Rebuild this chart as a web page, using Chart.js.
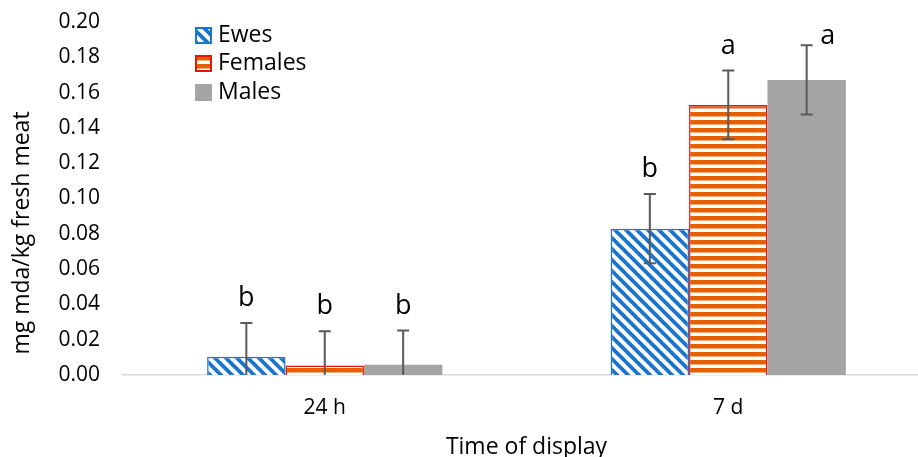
<!DOCTYPE html>
<html>
<head>
<meta charset="utf-8">
<script src="https://cdn.jsdelivr.net/npm/chart.js@4"></script>
<style>
  html,body{margin:0;padding:0;background:#fff}
  #wrap{width:918px;height:457px}
</style>
</head>
<body>
<div id="wrap"><canvas id="myChart"></canvas></div>
<script>
    // datos
    const categorias=['24 h','7 d']
    const ewes=[0.0103,0.0829]
    const females=[0.0054,0.153]
    const males=[0.0058,0.1672]
    const errEwes=[0.0192,0.0196]
    const errFemales=[0.0194,0.0195]
    const errMales=[0.0194,0.0196]
    const letEwes=['b','b']
    const letFemales=['b','a']
    const letMales=['b','a']
    const yTicks=[0,0.02,0.04,0.06,0.08,0.10,0.12,0.14,0.16,0.18,0.20]

    const FUENTE="'Open Sans', sans-serif"
    Chart.defaults.font.family=FUENTE

    const rayasDiag=(color)=>{
        const s=11
        const c=document.createElement('canvas')
        c.width=s; c.height=s
        const g=c.getContext('2d')
        g.fillStyle='#fff'; g.fillRect(0,0,s,s)
        g.strokeStyle=color; g.lineWidth=3.8
        for(let k=-1;k<=1;k++){
            g.beginPath(); g.moveTo(k*s-2,-2); g.lineTo(k*s+s+2,s+2); g.stroke()
        }
        return g.createPattern(c,'repeat')
    }
    const rayasHoriz=(color)=>{
        const c=document.createElement('canvas')
        c.width=8; c.height=8
        const g=c.getContext('2d')
        g.fillStyle='#fff'; g.fillRect(0,0,8,8)
        g.fillStyle=color; g.fillRect(0,0,8,4.5)
        return g.createPattern(c,'repeat')
    }

    // el area del grafico en la figura sigue mas alla del borde derecho
    const ajusteEjes={
        id:'ajusteEjes',
        afterLayout(chart){
            const x=chart.scales.x
            x.right=930
            x.width=x.right-x.left
            x.configure()
            const y=chart.scales.y
            y.top=22
            y.height=y.bottom-y.top
            y.configure()
        }
    }

    const barrasError={
        id:'barrasError',
        afterDatasetsDraw(chart){
            const ctx=chart.ctx
            const y=chart.scales.y
            chart.data.datasets.forEach((ds,i)=>{
                const meta=chart.getDatasetMeta(i)
                meta.data.forEach((bar,j)=>{
                    const v=ds.data[j], e=ds.errores[j]
                    const yTop=y.getPixelForValue(v+e)
                    const low=v-e
                    const yBot=y.getPixelForValue(Math.max(low,0))
                    ctx.save()
                    ctx.strokeStyle='#595959'
                    ctx.lineWidth=2
                    ctx.beginPath()
                    ctx.moveTo(bar.x,yTop); ctx.lineTo(bar.x,yBot)
                    ctx.moveTo(bar.x-6,yTop); ctx.lineTo(bar.x+6,yTop)
                    if(low>0){ ctx.moveTo(bar.x-6,yBot); ctx.lineTo(bar.x+6,yBot) }
                    ctx.stroke()
                    ctx.font="27px "+FUENTE
                    ctx.fillStyle='#000'
                    ctx.textAlign='center'
                    ctx.textBaseline='alphabetic'
                    let lx=bar.x, ly=yTop-17
                    if(ly-15<chart.chartArea.top-6){ lx=bar.x+21; ly=yTop-1 }
                    ctx.fillText(ds.letras[j],lx,ly)
                    ctx.restore()
                })
            })
        }
    }

    const leyenda={
        id:'leyenda',
        afterDraw(chart){
            const ctx=chart.ctx
            const filas=[27,55,84]
            chart.data.datasets.forEach((ds,i)=>{
                const y0=filas[i]
                ctx.save()
                ctx.fillStyle=ds.backgroundColor
                ctx.fillRect(195,y0,17,17)
                if(ds.borderWidth){
                    ctx.strokeStyle=ds.borderColor
                    ctx.lineWidth=2
                    ctx.strokeRect(196,y0+1,15,15)
                }
                ctx.fillStyle='#000'
                ctx.font="23px "+FUENTE
                ctx.textAlign='left'
                ctx.textBaseline='middle'
                ctx.fillText(ds.label,218,y0+8.5)
                ctx.restore()
            })
        }
    }

    const tituloY={
        id:'tituloY',
        afterDraw(chart){
            const ctx=chart.ctx
            ctx.save()
            ctx.translate(22,233)
            ctx.rotate(-Math.PI/2)
            ctx.font="23px "+FUENTE
            ctx.fillStyle='#000'
            ctx.textAlign='center'
            ctx.textBaseline='middle'
            ctx.fillText('mg mda/kg fresh meat',0,0)
            ctx.restore()
        }
    }

    const ctx=document.getElementById('myChart')
    new Chart(ctx,{
        type:'bar',
        data:{
            labels:categorias,
            datasets:[
                {label:'Ewes',data:ewes,errores:errEwes,letras:letEwes,
                 backgroundColor:rayasDiag('#1b75cc'),borderColor:'#1b75cc',borderWidth:1.5},
                {label:'Females',data:females,errores:errFemales,letras:letFemales,
                 backgroundColor:rayasHoriz('#e35f00'),borderColor:'#e8150e',borderWidth:1.5},
                {label:'Males',data:males,errores:errMales,letras:letMales,
                 backgroundColor:'#a5a5a5',borderWidth:0}
            ]
        },
        options:{
            responsive:true,
            maintainAspectRatio:false,
            animation:false,
            events:[],
            layout:{padding:{top:10,right:0,left:0,bottom:0}},
            datasets:{bar:{categoryPercentage:0.583,barPercentage:1}},
            plugins:{legend:{display:false},tooltip:{enabled:false}},
            scales:{
                x:{
                    grid:{display:false},
                    border:{display:true,color:'#d9d9d9',width:1.5},
                    ticks:{color:'#000',font:{size:21},padding:12},
                    title:{display:true,text:'Time of display',color:'#000',font:{size:23},padding:{top:-4,bottom:-4}},
                    afterFit(s){ s.height=82 }
                },
                y:{
                    min:0,max:0.2,
                    grid:{display:false,drawTicks:false},
                    border:{display:false},
                    ticks:{color:'#000',font:{size:21},padding:23,callback:(v)=>v.toFixed(2)},
                    afterBuildTicks(s){ s.ticks=yTicks.map(v=>({value:v})) },
                    afterFit(s){ s.width=123 }
                }
            }
        },
        plugins:[ajusteEjes,barrasError,leyenda,tituloY]
    })
</script>
</body>
</html>
